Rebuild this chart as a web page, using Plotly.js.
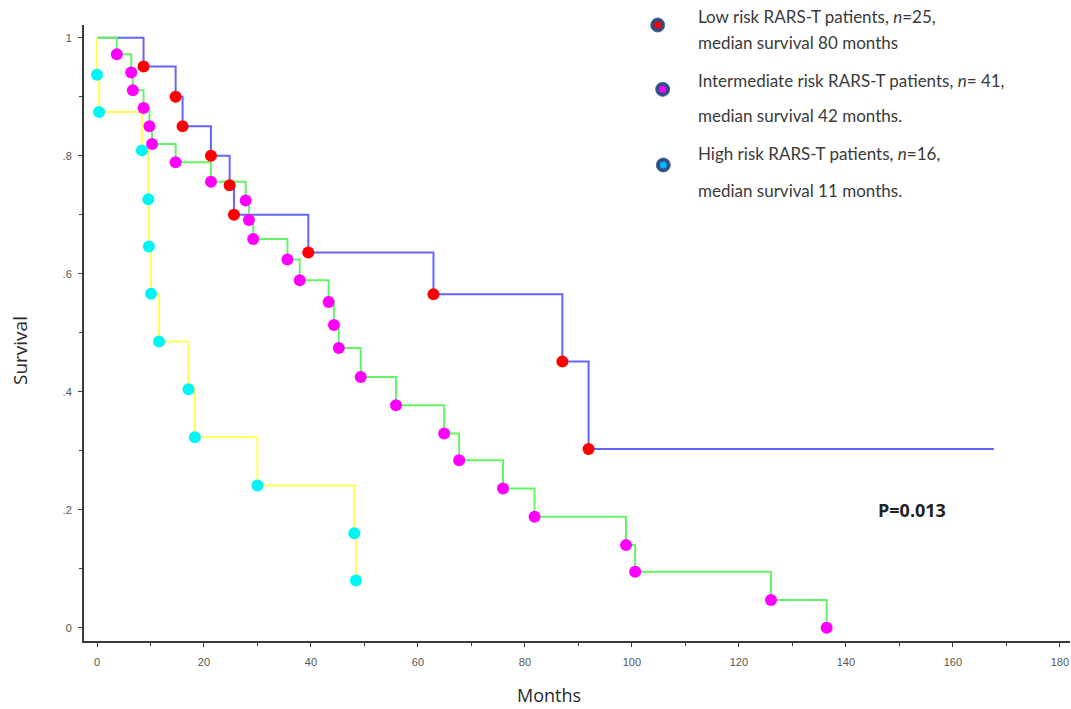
<!DOCTYPE html>
<html>
<head>
<meta charset="utf-8">
<script src="https://cdn.plot.ly/plotly-3.0.1.min.js"></script>
<style>html,body{margin:0;padding:0;background:#fff;}#chart{width:1071px;height:709px;}</style>
</head>
<body>
<div id="chart"></div>
<script>
// Low risk (blue line, red markers)
const lowTimes = [8.7, 14.7, 16.0, 21.3, 24.8, 25.6, 39.5, 62.9, 87.0, 91.9];
const lowSurv  = [0.951, 0.900, 0.850, 0.800, 0.750, 0.700, 0.636, 0.565, 0.451, 0.303];
const lowLastFollowUp = 167.7;

// Intermediate risk (green line, magenta markers)
const intTimes = [3.7, 6.4, 6.7, 8.7, 9.8, 10.3, 14.7, 21.3, 27.8, 28.4, 29.2, 35.6, 37.9, 43.3, 44.3, 45.2, 49.3, 55.9, 64.9, 67.7, 75.9, 81.8, 98.9, 100.6, 126.0, 136.4];
const intSurv  = [0.972, 0.941, 0.911, 0.881, 0.850, 0.820, 0.789, 0.756, 0.724, 0.691, 0.659, 0.624, 0.589, 0.552, 0.513, 0.474, 0.425, 0.377, 0.329, 0.284, 0.236, 0.188, 0.140, 0.095, 0.047, 0.0];

// High risk (yellow line, cyan markers)
const highTimes = [0.0, 0.4, 8.4, 9.6, 9.7, 10.1, 11.6, 17.1, 18.3, 30.0, 48.1, 48.4];
const highSurv  = [0.937, 0.874, 0.809, 0.726, 0.646, 0.566, 0.485, 0.404, 0.323, 0.241, 0.160, 0.080];

const yTickVals = [0, 0.2, 0.4, 0.6, 0.8, 1];
const yTickText = ['0', '.2', '.4', '.6', '.8', '1'];
const xTickVals = [0, 20, 40, 60, 80, 100, 120, 140, 160, 180];

const legendLines = [
  ['Low risk RARS-T patients, <i>n</i>=25,', 'median survival 80 months'],
  ['Intermediate risk RARS-T patients, <i>n</i>= 41,', 'median survival 42 months.'],
  ['High risk RARS-T patients, <i>n</i>=16,', 'median survival 11 months.']
];
const pValueText = 'P=0.013';

function stepLine(times, surv, endTime, color) {
  const x = [0].concat(times);
  const y = [1].concat(surv);
  if (endTime !== null) { x.push(endTime); y.push(surv[surv.length - 1]); }
  return {x: x, y: y, type: 'scatter', mode: 'lines', line: {shape: 'hv', color: color, width: 2}, hoverinfo: 'skip', showlegend: false};
}
function markers(times, surv, color) {
  return {x: times, y: surv, type: 'scatter', mode: 'markers', marker: {color: color, size: 12}, showlegend: false};
}

const traces = [
  stepLine(lowTimes, lowSurv, lowLastFollowUp, '#6464ff'),
  stepLine(intTimes, intSurv, null, '#64f564'),
  stepLine(highTimes, highSurv, null, '#ffff55'),
  markers(lowTimes, lowSurv, '#ff0000'),
  markers(intTimes, intSurv, '#ff00ff'),
  markers(highTimes, highSurv, '#00f5f5')
];

// layout geometry: plot area 84..1070 px horizontally, 25..641 px vertically
const L = 84, T = 25, PW = 986, PH = 616;
const px = v => (v - L) / PW;
const py = v => (T + PH - v) / PH;

const legendDotColors = ['#ff0000', '#ff00ff', '#00b4ff'];
const legendDotPos = [[657.7, 25], [662.7, 89.3], [663.3, 165]];
const legendTextY = [[16.7, 42.3], [80, 116], [154, 190.7]];

const shapes = [];
const annotations = [];
legendDotPos.forEach((p, i) => {
  shapes.push({type: 'circle', xref: 'paper', yref: 'paper', xsizemode: 'pixel', ysizemode: 'pixel',
    xanchor: px(p[0]), yanchor: py(p[1]), x0: -7, x1: 7, y0: -7, y1: 7,
    fillcolor: '#2f4f80', line: {color: '#4a6a9a', width: 1}});
  shapes.push({type: 'circle', xref: 'paper', yref: 'paper', xsizemode: 'pixel', ysizemode: 'pixel',
    xanchor: px(p[0]), yanchor: py(p[1]), x0: -3.5, x1: 3.5, y0: -3.5, y1: 3.5,
    fillcolor: legendDotColors[i], line: {width: 0}});
  legendLines[i].forEach((t, j) => {
    annotations.push({text: t, xref: 'paper', yref: 'paper', x: px(696), y: py(legendTextY[i][j]),
      xanchor: 'left', yanchor: 'middle', showarrow: false,
      font: {family: 'Lato, Noto Sans, sans-serif', size: 17, color: '#3a3a3a'}});
  });
});
annotations.push({text: '<b>' + pValueText + '</b>', xref: 'x', yref: 'y', x: 152.3, y: 0.1995,
  xanchor: 'center', yanchor: 'middle', showarrow: false,
  font: {family: 'Open Sans, Noto Sans, sans-serif', size: 18, color: '#222'}});
annotations.push({text: 'Months', xref: 'paper', yref: 'paper', x: px(549), y: py(695),
  xanchor: 'center', yanchor: 'middle', showarrow: false,
  font: {family: 'Open Sans, Noto Sans, sans-serif', size: 18, color: '#2a2a2a'}});
annotations.push({text: 'Survival', xref: 'paper', yref: 'paper', x: px(20), y: py(351), textangle: -90,
  xanchor: 'center', yanchor: 'middle', showarrow: false,
  font: {family: 'Open Sans, Noto Sans, sans-serif', size: 19, color: '#2a2a2a'}});

const layout = {
  width: 1071, height: 709,
  margin: {l: L, r: 1071 - L - PW, t: T, b: 709 - T - PH, pad: 0},
  paper_bgcolor: '#ffffff', plot_bgcolor: '#ffffff',
  showlegend: false,
  xaxis: {
    range: [-2.43, 181.9], showgrid: false, zeroline: false,
    showline: true, linecolor: '#3a3a3a', linewidth: 2,
    ticks: 'outside', ticklen: 4, tickcolor: '#3a3a3a', tickwidth: 1,
    tickvals: xTickVals, ticklabelstandoff: 6,
    minor: {dtick: 10, tick0: 0, ticks: 'outside', ticklen: 3, tickcolor: '#3a3a3a', showgrid: false},
    tickfont: {family: 'Liberation Sans, Arial, sans-serif', size: 11, color: '#555'}
  },
  yaxis: {
    range: [-0.0225, 1.0215], showgrid: false, zeroline: false,
    showline: true, linecolor: '#3a3a3a', linewidth: 2,
    ticks: 'outside', ticklen: 4, tickcolor: '#3a3a3a', tickwidth: 1,
    tickvals: yTickVals, ticktext: yTickText, ticklabelstandoff: 4,
    minor: {dtick: 0.1, tick0: 0, ticks: 'outside', ticklen: 3, tickcolor: '#3a3a3a', showgrid: false},
    tickfont: {family: 'Liberation Sans, Arial, sans-serif', size: 11, color: '#555'}
  },
  shapes: shapes,
  annotations: annotations
};

Plotly.newPlot('chart', traces, layout, {displayModeBar: false, staticPlot: true});
</script>
</body>
</html>
